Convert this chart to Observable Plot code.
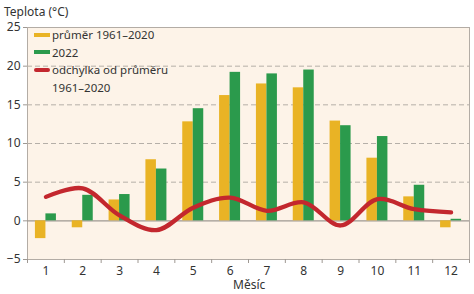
<!DOCTYPE html>
<html>
<head>
<meta charset="utf-8">
<script src="https://cdn.jsdelivr.net/npm/d3@7"></script>
<script src="https://cdn.jsdelivr.net/npm/@observablehq/plot@0.6"></script>
<style>
  html, body { margin: 0; padding: 0; background: #fff; }
  #wrap { position: relative; width: 474px; height: 294px; font-family: "Noto Sans", sans-serif; color: #333; }
  .lbl { position: absolute; font-size: 12px; white-space: nowrap; line-height: 14px; }
  #legend { position: absolute; left: 34px; top: 26px; font-size: 11.5px; line-height: 17.5px; color: #333; }
  #legend .row { display: flex; align-items: center; white-space: nowrap; }
  #legend .sw { display: inline-block; width: 16px; margin-right: 2px; }
</style>
</head>
<body>
<div id="wrap"></div>
<script>
const months = [1, 2, 3, 4, 5, 6, 7, 8, 9, 10, 11, 12];
const avg1961 = [-2.3, -0.9, 2.7, 7.9, 12.8, 16.2, 17.7, 17.2, 12.9, 8.1, 3.1, -0.9];
const y2022 = [0.9, 3.3, 3.4, 6.7, 14.5, 19.2, 19.0, 19.5, 12.3, 10.9, 4.6, 0.2];
const deviation = [3.1, 4.2, 0.7, -1.2, 1.7, 3.0, 1.3, 2.4, -0.6, 2.8, 1.5, 1.1];
const yTicks = [-5, 0, 5, 10, 15, 20, 25];
const seriesNames = ["průměr 1961–2020", "2022", "odchylka od průměru\n1961–2020"];
const colors = { avg: "#e9b325", y22: "#2b9a4c", dev: "#c3272e" };

const boundaries = months.map(m => m - 0.5).concat([12.5]);
const barW = 0.285;
const data = months.map((m, i) => ({ month: m, avg: avg1961[i], y22: y2022[i], dev: deviation[i] }));

const chart = Plot.plot({
  width: 474,
  height: 294,
  marginLeft: 27,
  marginRight: 5,
  marginTop: 27,
  marginBottom: 35,
  style: { fontFamily: "Noto Sans, sans-serif", fontSize: "11px", color: "#333", background: "transparent" },
  x: { type: "linear", domain: [0.5, 12.5] },
  y: { domain: [-5, 25] },
  marks: [
    Plot.frame({ fill: "#fdf3e8", stroke: "#b3aca5" }),
    Plot.ruleY([5, 10, 15, 20], { stroke: "#b5afa8", strokeDasharray: "5,3" }),
    Plot.ruleY([0], { stroke: "#9e9892", strokeWidth: 1.2 }),
    Plot.rect(data, { x1: d => d.month - barW, x2: d => d.month, y1: 0, y2: "avg", fill: colors.avg }),
    Plot.rect(data, { x1: d => d.month, x2: d => d.month + barW, y1: 0, y2: "y22", fill: colors.y22 }),
    Plot.line(data, { x: "month", y: "dev", curve: "catmull-rom", stroke: colors.dev, strokeWidth: 4.3, strokeLinecap: "round" }),
    Plot.axisY({ ticks: yTicks, tickSize: 4, tickPadding: 3, label: null, stroke: "#9e9892", fontSize: 12 }),
    Plot.axisX({ ticks: boundaries, tickSize: 4, tickFormat: () => "", label: null, stroke: "#9e9892" }),
    Plot.axisX({ ticks: months, tickSize: 0, tickPadding: 7, label: null, fontSize: 12 })
  ]
});

const wrap = document.getElementById("wrap");
wrap.appendChild(chart);

const ylab = document.createElement("div");
ylab.className = "lbl";
ylab.style.left = "4px"; ylab.style.top = "5px";
ylab.textContent = "Teplota (°C)";
wrap.appendChild(ylab);

const xlab = document.createElement("div");
xlab.className = "lbl";
xlab.style.left = "233px"; xlab.style.top = "278px";
xlab.textContent = "Měsíc";
wrap.appendChild(xlab);

const legend = document.createElement("div");
legend.id = "legend";
const swatches = [
  { color: colors.avg, h: 4, r: 0 },
  { color: colors.y22, h: 4, r: 0 },
  { color: colors.dev, h: 3.5, r: 2 }
];
seriesNames.forEach((name, i) => {
  const lines = name.split("\n");
  lines.forEach((t, j) => {
    const row = document.createElement("div");
    row.className = "row";
    const sw = document.createElement("span");
    sw.className = "sw";
    if (j === 0) {
      sw.style.height = swatches[i].h + "px";
      sw.style.background = swatches[i].color;
      sw.style.borderRadius = swatches[i].r + "px";
    }
    row.appendChild(sw);
    const tx = document.createElement("span");
    tx.textContent = t;
    row.appendChild(tx);
    legend.appendChild(row);
  });
});
wrap.appendChild(legend);
</script>
</body>
</html>
